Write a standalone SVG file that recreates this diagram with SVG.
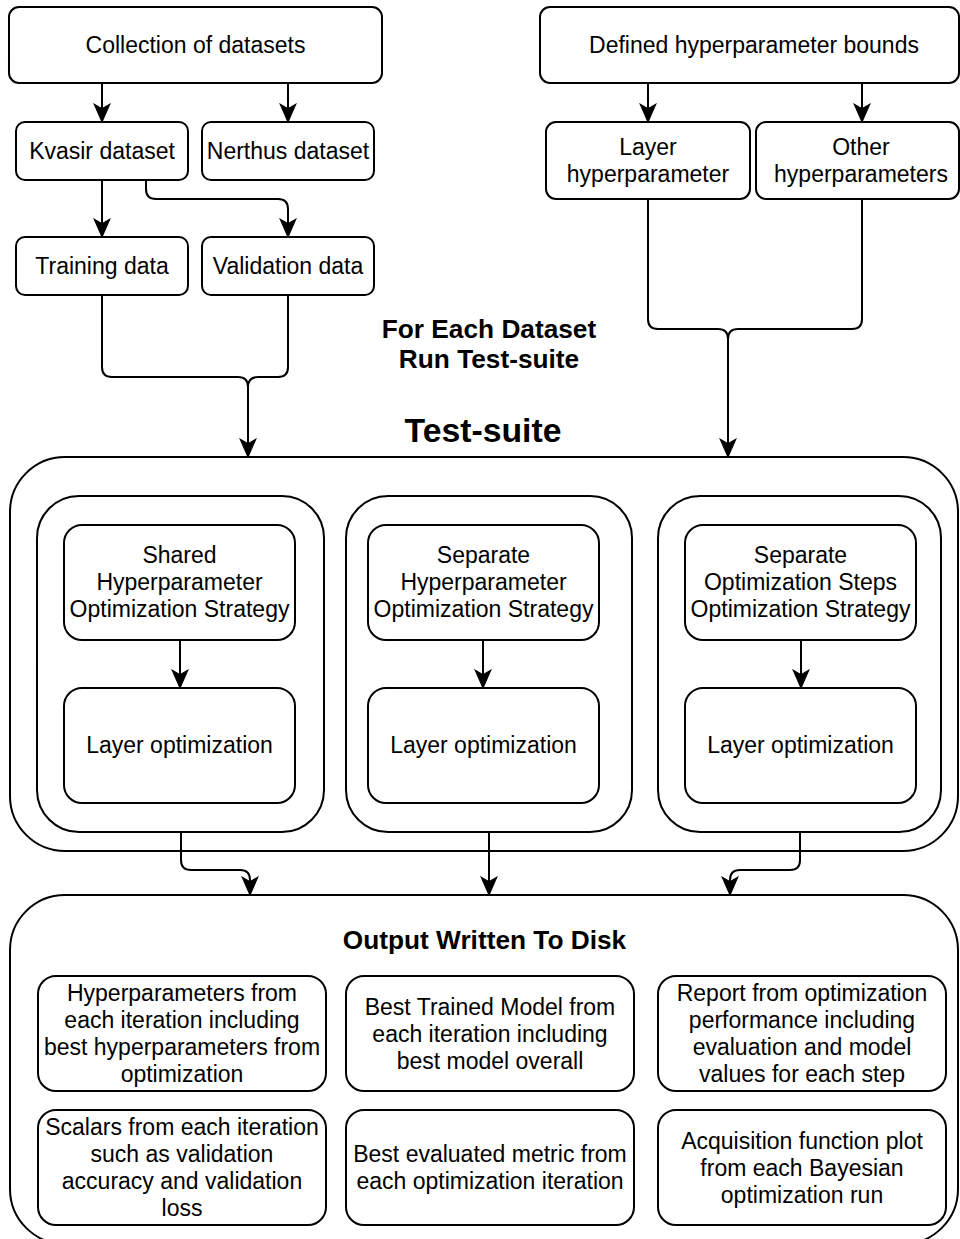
<svg xmlns="http://www.w3.org/2000/svg" width="960" height="1239" viewBox="0 0 960 1239">
<defs>
<style>
.box{fill:#fff;stroke:#000;stroke-width:2}
.t{font-family:"Liberation Sans",Arial,Helvetica,sans-serif;font-size:23px;fill:#000;text-anchor:middle}
.b{font-family:"Liberation Sans",Arial,Helvetica,sans-serif;font-weight:bold;fill:#000;text-anchor:middle}
.c{fill:none;stroke:#000;stroke-width:2}
</style>
<marker id="arr" markerUnits="userSpaceOnUse" markerWidth="20" markerHeight="20" viewBox="-17 -8 18 16" refX="0" refY="0" orient="auto">
<path d="M0,0 L-16,-7 L-12,0 L-16,7 Z" fill="#000" stroke="#000" stroke-width="1"/>
</marker>
</defs>

<g id="collection"><rect class="box" x="9" y="7" width="373" height="76" rx="10"/><text class="t" x="195.5" y="53">Collection of datasets</text></g>
<g id="kvasir"><rect class="box" x="16" y="122" width="172" height="58" rx="9"/><text class="t" x="102" y="159">Kvasir dataset</text></g>
<g id="nerthus"><rect class="box" x="202" y="122" width="172" height="58" rx="9"/><text class="t" x="288" y="159">Nerthus dataset</text></g>
<g id="training"><rect class="box" x="16" y="237" width="172" height="58" rx="9"/><text class="t" x="102" y="274">Training data</text></g>
<g id="validation"><rect class="box" x="202" y="237" width="172" height="58" rx="9"/><text class="t" x="288" y="274">Validation data</text></g>
<g id="bounds"><rect class="box" x="540" y="7" width="419" height="76" rx="10"/><text class="t" x="754" y="53">Defined hyperparameter bounds</text></g>
<g id="layerhp"><rect class="box" x="546" y="122" width="204" height="77" rx="10"/><text class="t" x="648" y="155">Layer</text><text class="t" x="648" y="182">hyperparameter</text></g>
<g id="otherhp"><rect class="box" x="756" y="122" width="203" height="77" rx="10"/><text class="t" x="861" y="155">Other</text><text class="t" x="861" y="182">hyperparameters</text></g>

<g id="foreach"><text class="b" style="font-size:26.25px" x="489" y="338">For Each Dataset</text><text class="b" style="font-size:26.25px" x="489" y="368">Run Test-suite</text></g>

<g id="testsuite">
<text class="b" style="font-size:33.75px" x="483" y="442">Test-suite</text>
<rect class="box" x="10" y="457" width="948" height="394" rx="55"/>
</g>
<g id="strategy1"><rect class="box" x="37" y="496" width="287" height="336" rx="42"/></g>
<g id="strategy2"><rect class="box" x="346" y="496" width="286" height="336" rx="42"/></g>
<g id="strategy3"><rect class="box" x="658" y="496" width="283" height="336" rx="42"/></g>
<g id="shared"><rect class="box" x="64" y="525" width="231" height="115" rx="18"/><text class="t" x="179.5" y="563">Shared</text><text class="t" x="179.5" y="590">Hyperparameter</text><text class="t" x="179.5" y="617">Optimization Strategy</text></g>
<g id="separatehp"><rect class="box" x="368" y="525" width="231" height="115" rx="18"/><text class="t" x="483.5" y="563">Separate</text><text class="t" x="483.5" y="590">Hyperparameter</text><text class="t" x="483.5" y="617">Optimization Strategy</text></g>
<g id="separatesteps"><rect class="box" x="685" y="525" width="231" height="115" rx="18"/><text class="t" x="800.5" y="563">Separate</text><text class="t" x="800.5" y="590">Optimization Steps</text><text class="t" x="800.5" y="617">Optimization Strategy</text></g>
<g id="layeropt1"><rect class="box" x="64" y="688" width="231" height="115" rx="18"/><text class="t" x="179.5" y="753">Layer optimization</text></g>
<g id="layeropt2"><rect class="box" x="368" y="688" width="231" height="115" rx="18"/><text class="t" x="483.5" y="753">Layer optimization</text></g>
<g id="layeropt3"><rect class="box" x="685" y="688" width="231" height="115" rx="18"/><text class="t" x="800.5" y="753">Layer optimization</text></g>

<g id="output">
<rect class="box" x="10" y="895" width="948" height="349" rx="55"/>
<text class="b" style="font-size:26.25px" x="484.5" y="949">Output Written To Disk</text>
</g>
<g id="out-hp"><rect class="box" x="38" y="976" width="288" height="115" rx="18"/><text class="t" x="182" y="1001">Hyperparameters from</text><text class="t" x="182" y="1028">each iteration including</text><text class="t" x="182" y="1055">best hyperparameters from</text><text class="t" x="182" y="1082">optimization</text></g>
<g id="out-model"><rect class="box" x="346" y="976" width="288" height="115" rx="18"/><text class="t" x="490" y="1014.5">Best Trained Model from</text><text class="t" x="490" y="1041.5">each iteration including</text><text class="t" x="490" y="1068.5">best model overall</text></g>
<g id="out-report"><rect class="box" x="658" y="976" width="288" height="115" rx="18"/><text class="t" x="802" y="1001">Report from optimization</text><text class="t" x="802" y="1028">performance including</text><text class="t" x="802" y="1055">evaluation and model</text><text class="t" x="802" y="1082">values for each step</text></g>
<g id="out-scalars"><rect class="box" x="38" y="1110" width="288" height="115" rx="18"/><text class="t" x="182" y="1135">Scalars from each iteration</text><text class="t" x="182" y="1162">such as validation</text><text class="t" x="182" y="1189">accuracy and validation</text><text class="t" x="182" y="1216">loss</text></g>
<g id="out-metric"><rect class="box" x="346" y="1110" width="288" height="115" rx="18"/><text class="t" x="490" y="1162">Best evaluated metric from</text><text class="t" x="490" y="1189">each optimization iteration</text></g>
<g id="out-acq"><rect class="box" x="658" y="1110" width="288" height="115" rx="18"/><text class="t" x="802" y="1148.5">Acquisition function plot</text><text class="t" x="802" y="1175.5">from each Bayesian</text><text class="t" x="802" y="1202.5">optimization run</text></g>

<g id="connectors">
<path class="c" marker-end="url(#arr)" d="M102,83 V122"/>
<path class="c" marker-end="url(#arr)" d="M288,83 V122"/>
<path class="c" marker-end="url(#arr)" d="M102,180 V237"/>
<path class="c" marker-end="url(#arr)" d="M146,180 V189 Q146,199 156,199 H278 Q288,199 288,209 V237"/>
<path class="c" marker-end="url(#arr)" d="M648,83 V122"/>
<path class="c" marker-end="url(#arr)" d="M862,83 V122"/>
<path class="c" marker-end="url(#arr)" d="M102,295 V367 Q102,377 112,377 H238 Q248,377 248,387 V457"/>
<path class="c" d="M288,295 V367 Q288,377 278,377 H258 Q248,377 248,387"/>
<path class="c" marker-end="url(#arr)" d="M648,199 V319 Q648,329 658,329 H718 Q728,329 728,339 V457"/>
<path class="c" d="M862,199 V319 Q862,329 852,329 H738 Q728,329 728,339"/>
<path class="c" marker-end="url(#arr)" d="M180,640 V688"/>
<path class="c" marker-end="url(#arr)" d="M483,640 V688"/>
<path class="c" marker-end="url(#arr)" d="M801,640 V688"/>
<path class="c" marker-end="url(#arr)" d="M181,832 V860 Q181,870 191,870 H240 Q250,870 250,880 V895"/>
<path class="c" marker-end="url(#arr)" d="M489,832 V895"/>
<path class="c" marker-end="url(#arr)" d="M800,832 V860 Q800,870 790,870 H740 Q730,870 730,880 V895"/>
</g>
</svg>
